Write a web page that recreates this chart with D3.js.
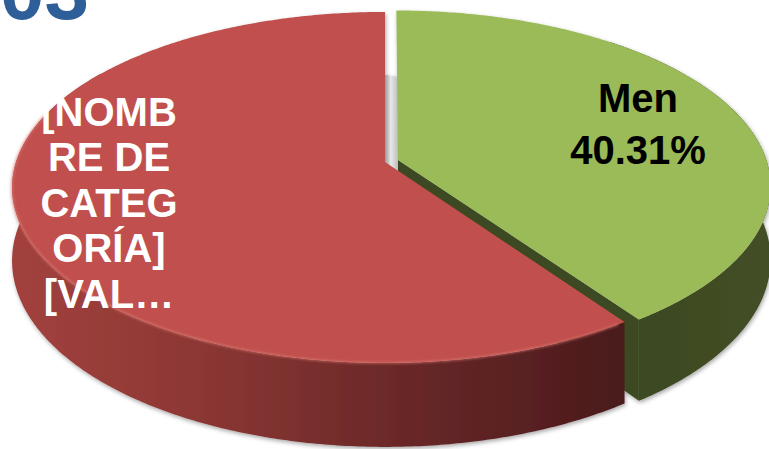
<!DOCTYPE html>
<html><head><meta charset="utf-8">
<script src="https://cdn.jsdelivr.net/npm/d3@7"></script>
<style>html,body{margin:0;padding:0;background:#fff;overflow:hidden}svg{display:block}</style>
</head><body>
<svg id="c" width="769" height="449"></svg>
<script>
// ---- data ----
const categories = ["Men", "[NOMBRE DE CATEGORÍA]"];
const values = [40.31, 59.69];
const labelLines = [["Men", "40.31%"], ["[NOMB", "RE DE", "CATEG", "ORÍA]", "[VAL…"]];
const topColors = ["#9bbb59", "#c0504d"];
const titleText = "03";

// ---- layout ----
const svg = d3.select("#c");
const cx = 385, cy = 162, rx = 369, ry = 171.8, k = 0.145, t = 71.8;
const explodeAmt = [0.037, 0];

function proj(X, Y, z) { const d = 1 + k * Y; return [cx + rx * X / d, cy + (-ry * Y + t * z) / d]; }

const pie = d3.pie().sort(null).value(d => d).startAngle(0).endAngle(2 * Math.PI);
const arcs = pie(values);

function off(i) { const a = (arcs[i].startAngle + arcs[i].endAngle) / 2; return [explodeAmt[i] * Math.sin(a), explodeAmt[i] * Math.cos(a)]; }
function P(i, a, r, z) { const [ox, oy] = off(i); return proj(r * Math.sin(a) + ox, r * Math.cos(a) + oy, z); }
function arcPts(i, b0, b1, z) {
  const n = Math.max(2, Math.ceil(Math.abs(b1 - b0) / 0.01));
  return d3.range(n + 1).map(j => P(i, b0 + (b1 - b0) * j / n, 1, z));
}
const line = d3.line();
function topPath(i) { const a = arcs[i]; return line([P(i, 0, 0, 0), ...arcPts(i, a.startAngle, a.endAngle, 0)]) + "Z"; }
function wallPath(i, b0, b1) { return line([...arcPts(i, b0, b1, 0), ...arcPts(i, b1, b0, 1)]) + "Z"; }
function cutPath(i, a) { return line([P(i, a, 0, 0), P(i, a, 1, 0), P(i, a, 1, 1), P(i, a, 0, 1)]) + "Z"; }

const defs = svg.append("defs");
const redGrad = defs.append("linearGradient").attr("id", "redWall").attr("gradientUnits", "userSpaceOnUse")
  .attr("x1", P(1, 1.5 * Math.PI, 1, 0)[0]).attr("x2", P(1, arcs[1].startAngle, 1, 0)[0]).attr("y1", 0).attr("y2", 0);
[[0, "#a2413e"], [0.3, "#8c3734"], [0.63, "#6a2828"], [1, "#4a1a1c"]].forEach(s => redGrad.append("stop").attr("offset", s[0]).attr("stop-color", s[1]));
const greenGrad = defs.append("linearGradient").attr("id", "greenWall").attr("gradientUnits", "userSpaceOnUse")
  .attr("x1", P(0, arcs[0].endAngle, 1, 0)[0]).attr("x2", P(0, Math.PI / 2, 1, 0)[0]).attr("y1", 0).attr("y2", 0);
[[0, "#3c4821"], [1, "#434f26"]].forEach(s => greenGrad.append("stop").attr("offset", s[0]).attr("stop-color", s[1]));
const gx0 = P(1, 0, 0, 0)[0], gx1 = P(0, 0, 0, 0)[0];
const grayGrad = defs.append("linearGradient").attr("id", "grayFace").attr("gradientUnits", "userSpaceOnUse")
  .attr("x1", gx0).attr("x2", gx1).attr("y1", 0).attr("y2", 0);
[[0, "#9a9a9a"], [0.45, "#e8e8e8"], [1, "#bdbdbd"]].forEach(s => grayGrad.append("stop").attr("offset", s[0]).attr("stop-color", s[1]));
const f = defs.append("filter").attr("id", "sh").attr("x", "-5%").attr("y", "-5%").attr("width", "110%").attr("height", "115%");
f.append("feDropShadow").attr("dx", 1).attr("dy", 2).attr("stdDeviation", 2.2).attr("flood-color", "#000").attr("flood-opacity", 0.35);
const fb = defs.append("filter").attr("id", "blur1");
fb.append("feGaussianBlur").attr("stdDeviation", 0.8);

const g = svg.append("g").attr("filter", "url(#sh)");

// gray inner face of the red slice at 12 o'clock (seen through the gap)
const A = proj(0, 1, 1), B = [gx1, A[1] + 2], C = [gx1, proj(0, 0, 1)[1]], D = proj(0, 0, 1);
g.append("path").attr("d", line([A, B, C, D]) + "Z").attr("fill", "url(#grayFace)");

// green slice (exploded)
g.append("path").attr("d", cutPath(0, arcs[0].endAngle)).attr("fill", "#3c4820");
g.append("path").attr("d", wallPath(0, 0.7, arcs[0].endAngle)).attr("fill", "url(#greenWall)");
g.append("path").attr("d", topPath(0)).attr("fill", topColors[0]);

// red slice
g.append("path").attr("d", wallPath(1, arcs[1].startAngle, 5.3)).attr("fill", "url(#redWall)");
g.append("path").attr("d", topPath(1)).attr("fill", topColors[1]);
g.append("path").attr("d", line(arcPts(1, arcs[1].startAngle + 0.02, 5.0, 0)))
  .attr("fill", "none").attr("stroke", "#e27c74").attr("stroke-width", 2.2).attr("opacity", 0.55).attr("filter", "url(#blur1)");

// labels
const labelPos = [{x: 638, y: 112, dy: 52, color: "#000"}, {x: 109, y: 126, dy: 45.4, color: "#fff"}];
labelLines.forEach((lines, i) => {
  const tx = svg.append("text").attr("text-anchor", "middle")
    .attr("font-family", "Liberation Sans, Arial, sans-serif").attr("font-weight", "bold")
    .attr("font-size", 40).attr("fill", labelPos[i].color);
  lines.forEach((s, j) => tx.append("tspan").attr("x", labelPos[i].x).attr("y", labelPos[i].y + j * labelPos[i].dy).text(s));
});

// title (cut off at top)
svg.append("text").attr("x", 0).attr("y", 19).attr("font-family", "Liberation Sans, Arial, sans-serif")
  .attr("font-weight", "bold").attr("font-size", 80).attr("fill", "#2f5f99").text(titleText);
</script>
</body></html>
